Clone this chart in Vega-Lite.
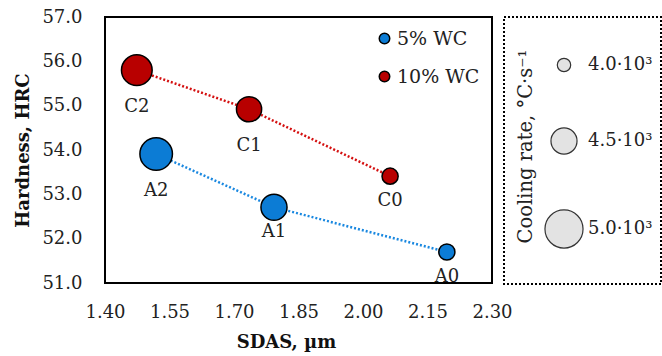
{
  "$schema": "https://vega.github.io/schema/vega-lite/v6.json",
  "padding": {"left": 13, "top": 7, "right": 0, "bottom": 0},
  "bounds": "flush",
  "spacing": 12,
  "config": {
    "font": "DejaVu Serif",
    "view": {"stroke": null},
    "axis": {"grid": false, "ticks": false, "domain": false, "labelFontSize": 18, "labelColor": "#222", "titleFontSize": 18, "titleFontWeight": "bold", "titleColor": "#111", "labelFont": "DejaVu Serif", "titleFont": "DejaVu Serif", "labelFlush": false},
    "legend": {"labelFont": "DejaVu Serif", "titleFont": "DejaVu Serif", "padding": 0}
  },
  "datasets": {
    "pts": [
      {"sample": "A0", "sdas": 2.195, "hardness": 51.70, "rate": 4080, "series": "5% WC"},
      {"sample": "A1", "sdas": 1.793, "hardness": 52.71, "rate": 4500, "series": "5% WC"},
      {"sample": "A2", "sdas": 1.519, "hardness": 53.91, "rate": 4746, "series": "5% WC"},
      {"sample": "C0", "sdas": 2.063, "hardness": 53.41, "rate": 4080, "series": "10% WC"},
      {"sample": "C1", "sdas": 1.735, "hardness": 54.92, "rate": 4453, "series": "10% WC"},
      {"sample": "C2", "sdas": 1.474, "hardness": 55.80, "rate": 4670, "series": "10% WC"}
    ]
  },
  "hconcat": [
    {
      "width": 387,
      "height": 266,
      "view": {"stroke": "black", "strokeWidth": 2},
      "data": {"name": "pts"},
      "encoding": {
        "x": {"field": "sdas", "type": "quantitative", "scale": {"domain": [1.4, 2.3], "nice": false, "zero": false},
          "axis": {"values": [1.4, 1.55, 1.7, 1.85, 2.0, 2.15, 2.3], "format": ".2f", "labelPadding": 20, "title": "SDAS, µm", "titlePadding": 12, "titleX": 181}},
        "y": {"field": "hardness", "type": "quantitative", "scale": {"domain": [51, 57], "nice": false, "zero": false},
          "axis": {"values": [51, 52, 53, 54, 55, 56, 57], "format": ".1f", "labelPadding": 23, "title": "Hardness, HRC", "titlePadding": 9}}
      },
      "layer": [
        {
          "transform": [{"filter": {"field": "series", "equal": "5% WC"}}],
          "mark": {"type": "line", "strokeDash": [2, 2], "strokeWidth": 2.5, "color": "#1a88e0"},
          "encoding": {}
        },
        {
          "transform": [{"filter": {"field": "series", "equal": "10% WC"}}],
          "mark": {"type": "line", "strokeDash": [2, 2], "strokeWidth": 2.5, "color": "#d41010"},
          "encoding": {}
        },
        {
          "mark": {"type": "point", "filled": true, "opacity": 1, "stroke": "black", "strokeWidth": 1.5},
          "encoding": {
            "color": {"field": "series", "type": "nominal",
              "scale": {"domain": ["5% WC", "10% WC"], "range": ["#0c7cd5", "#b80000"]},
              "legend": {"orient": "none", "legendX": 270, "legendY": 12, "title": null, "symbolType": "circle", "symbolSize": 110, "symbolStrokeColor": "black", "symbolStrokeWidth": 1.5, "labelFontSize": 19, "labelColor": "#222", "labelOffset": 3, "rowPadding": 18}},
            "size": {"field": "rate", "type": "quantitative",
              "scale": {"domain": [4000, 4500, 5000], "range": [180, 680, 1450]},
              "legend": {"orient": "none", "legendX": 439, "legendY": 39, "title": null,
                "values": [4000, 4500, 5000], "labelExpr": "format(datum.value/1000, '.1f') + '·10³'", "labelFontSize": 18, "labelColor": "#222", "labelOffset": 4,
                "symbolType": "circle", "symbolFillColor": "#e3e3e3", "symbolStrokeColor": "#333", "symbolStrokeWidth": 1.2, "rowPadding": 50}}
          }
        },
        {
          "transform": [{"filter": {"field": "sample", "oneOf": ["C2", "A2", "C1"]}}],
          "mark": {"type": "text", "fontSize": 18, "dy": 37, "color": "#222"},
          "encoding": {"text": {"field": "sample"}}
        },
        {
          "transform": [{"filter": {"field": "sample", "oneOf": ["A1", "C0", "A0"]}}],
          "mark": {"type": "text", "fontSize": 18, "dy": 25, "color": "#222"},
          "encoding": {"text": {"field": "sample"}}
        }
      ]
    },
    {
      "width": 157,
      "height": 267,
      "view": {"stroke": "black", "strokeWidth": 2, "strokeDash": [2, 2]},
      "data": {"values": [{}]},
      "mark": {"type": "text", "angle": 270, "fontSize": 19.5, "dy": -57, "dx": 4, "color": "#222", "baseline": "middle", "align": "center"},
      "encoding": {"text": {"value": "Cooling rate, °C·s⁻¹"}}
    }
  ]
}
